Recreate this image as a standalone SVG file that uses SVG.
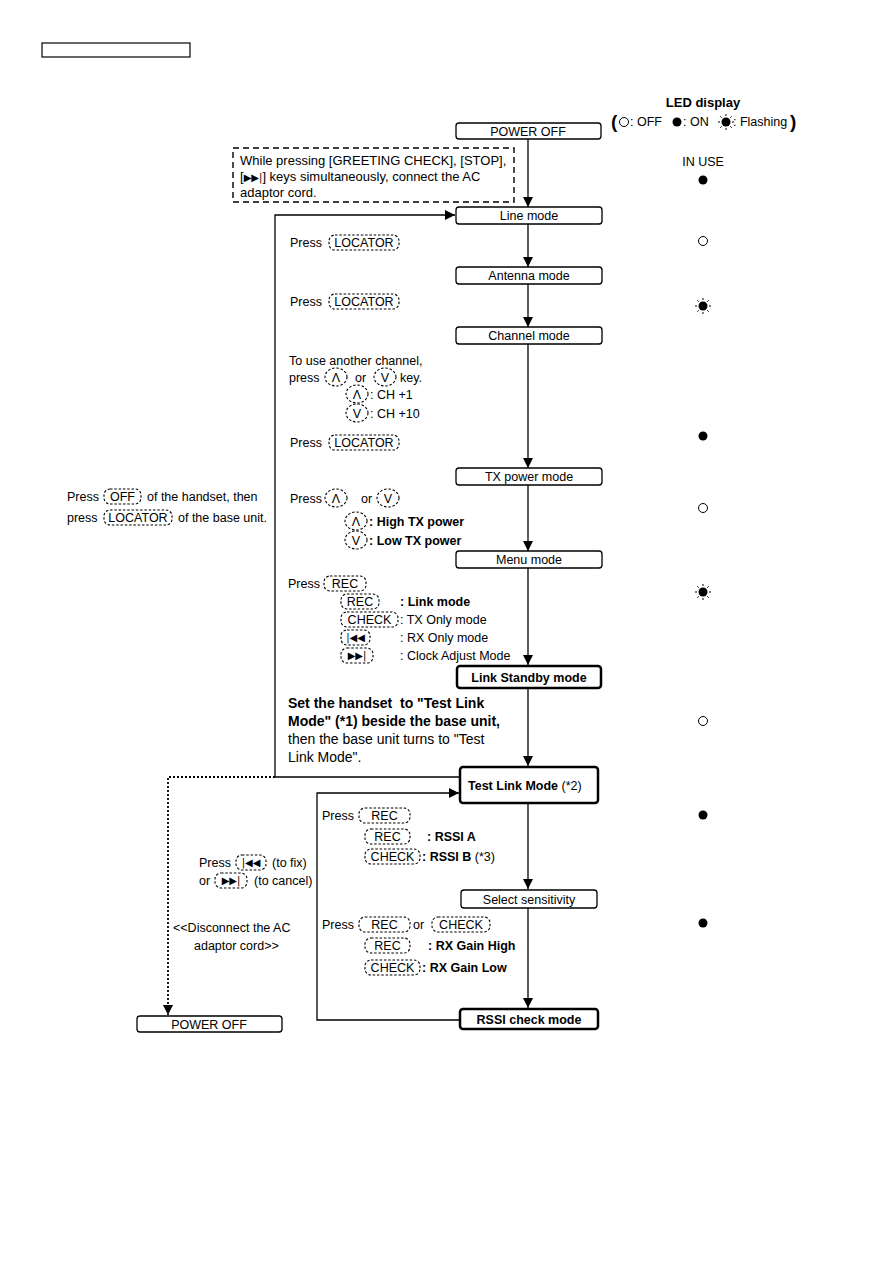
<svg xmlns="http://www.w3.org/2000/svg" width="893" height="1263" viewBox="0 0 893 1263">
<defs>
<marker id="ah" viewBox="0 0 10 10" refX="10" refY="5" markerWidth="10" markerHeight="10" markerUnits="userSpaceOnUse" orient="auto"><path d="M0,0 L10,5 L0,10 z" fill="#000"/></marker>
<g id="flash"><circle r="4.5" fill="#000"/><g stroke="#000" stroke-width="1"><line x1="0" y1="-6" x2="0" y2="-8"/><line x1="0" y1="6" x2="0" y2="8"/><line x1="-6" y1="0" x2="-8" y2="0"/><line x1="6" y1="0" x2="8" y2="0"/><line x1="4.3" y1="4.3" x2="5.7" y2="5.7"/><line x1="-4.3" y1="4.3" x2="-5.7" y2="5.7"/><line x1="4.3" y1="-4.3" x2="5.7" y2="-5.7"/><line x1="-4.3" y1="-4.3" x2="-5.7" y2="-5.7"/></g></g>
</defs>
<style>
text{font-family:"Liberation Sans",Arial,sans-serif;font-size:12.5px;fill:#000}
.b{font-weight:bold}
.c{text-anchor:middle}
.node{fill:#fff;stroke:#000;stroke-width:1.3}
.nodeb{fill:#fff;stroke:#000;stroke-width:2.5}
.key{fill:none;stroke:#000;stroke-width:1.1;stroke-dasharray:2.5 1.8}
.ln{fill:none;stroke:#000;stroke-width:1.3}
.dl{fill:none;stroke:#000;stroke-width:1.8;stroke-dasharray:2 2}
.big{font-size:14px}
</style>
<rect x="42" y="43" width="148" height="14" fill="none" stroke="#000" stroke-width="1.2"/>

<g id="legend">
<text x="703" y="107" class="c b" style="font-size:13px">LED display</text>
<text x="611" y="128" class="b" style="font-size:19px">(</text>
<circle cx="624" cy="122" r="4.5" fill="#fff" stroke="#000" stroke-width="1"/>
<text x="630" y="126">: OFF</text>
<circle cx="677" cy="122" r="4.5" fill="#000"/>
<text x="683" y="126">: ON</text>
<use href="#flash" x="726" y="122"/>
<text x="733" y="126">: Flashing</text>
<text x="790" y="128" class="b" style="font-size:19px">)</text>
<text x="703" y="166" class="c">IN USE</text>
<circle cx="703" cy="180" r="4.5" fill="#000"/>
<circle cx="703" cy="241" r="4.5" fill="#fff" stroke="#000" stroke-width="1"/>
<use href="#flash" x="703" y="306"/>
<circle cx="703" cy="436" r="4.5" fill="#000"/>
<circle cx="703" cy="508" r="4.5" fill="#fff" stroke="#000" stroke-width="1"/>
<use href="#flash" x="703" y="592"/>
<circle cx="703" cy="721" r="4.5" fill="#fff" stroke="#000" stroke-width="1"/>
<circle cx="703" cy="815" r="4.5" fill="#000"/>
<circle cx="703" cy="923" r="4.5" fill="#000"/>
</g>

<g id="connectors">
<line class="ln" x1="528" y1="139" x2="528" y2="207" marker-end="url(#ah)"/>
<line class="ln" x1="528" y1="224" x2="528" y2="267" marker-end="url(#ah)"/>
<line class="ln" x1="528" y1="284" x2="528" y2="327" marker-end="url(#ah)"/>
<line class="ln" x1="528" y1="344" x2="528" y2="468" marker-end="url(#ah)"/>
<line class="ln" x1="528" y1="485" x2="528" y2="551" marker-end="url(#ah)"/>
<line class="ln" x1="528" y1="568" x2="528" y2="665" marker-end="url(#ah)"/>
<line class="ln" x1="528" y1="689" x2="528" y2="766" marker-end="url(#ah)"/>
<line class="ln" x1="528" y1="804" x2="528" y2="889" marker-end="url(#ah)"/>
<line class="ln" x1="528" y1="908" x2="528" y2="1008" marker-end="url(#ah)"/>
<polyline class="ln" points="459,777 275,777 275,215 455,215" marker-end="url(#ah)"/>
<polyline class="ln" points="459,1020 317,1020 317,793 459,793" marker-end="url(#ah)"/>
<polyline class="dl" points="275,777 168,777 168,1015" marker-end="url(#ah)"/>
</g>

<g id="n-poweroff"><rect class="node" x="456" y="123" width="145" height="16" rx="3"/><text x="528" y="135.5" class="c">POWER OFF</text></g>
<g id="n-note"><rect x="233" y="148" width="281" height="54" fill="none" stroke="#000" stroke-width="1.4" stroke-dasharray="6 4"/>
<text x="240" y="165" style="font-size:13px">While pressing [GREETING CHECK], [STOP],</text>
<text x="240" y="181" style="font-size:13px">[<tspan style="font-family:'DejaVu Sans';font-size:10px">▶▶|</tspan>] keys simultaneously, connect the AC</text>
<text x="240" y="197" style="font-size:13px">adaptor cord.</text></g>
<g id="n-line"><rect class="node" x="456" y="207" width="146" height="17" rx="3"/><text x="529" y="220" class="c">Line mode</text></g>
<g id="n-antenna"><rect class="node" x="456" y="267" width="146" height="17" rx="3"/><text x="529" y="280" class="c">Antenna mode</text></g>
<g id="n-channel"><rect class="node" x="456" y="327" width="146" height="17" rx="3"/><text x="529" y="340" class="c">Channel mode</text></g>
<g id="n-txpower"><rect class="node" x="456" y="468" width="146" height="17" rx="3"/><text x="529" y="481" class="c">TX power mode</text></g>
<g id="n-menu"><rect class="node" x="456" y="551" width="146" height="17" rx="3"/><text x="529" y="564" class="c">Menu mode</text></g>
<g id="n-standby"><rect class="nodeb" x="457" y="666" width="144" height="22" rx="3"/><text x="529" y="682" class="c b">Link Standby mode</text></g>
<g id="n-testlink"><rect class="nodeb" x="460" y="767" width="138" height="36" rx="3"/><text x="468" y="790" class="b">Test Link Mode <tspan font-weight="normal">(*2)</tspan></text></g>
<g id="n-select"><rect class="node" x="461" y="890" width="136" height="18" rx="3"/><text x="529" y="904" class="c">Select sensitivity</text></g>
<g id="n-rssi"><rect class="nodeb" x="460" y="1009" width="138" height="20" rx="3"/><text x="529" y="1024" class="c b">RSSI check mode</text></g>
<g id="n-poweroff2"><rect class="node" x="137" y="1016" width="145" height="16" rx="3"/><text x="209" y="1028.5" class="c">POWER OFF</text></g>

<g id="labels">
<text x="290" y="247">Press</text><rect class="key" x="329" y="235" width="70" height="15" rx="6"/><text x="364" y="247" class="c">LOCATOR</text>
<text x="290" y="306">Press</text><rect class="key" x="329" y="294" width="70" height="15" rx="6"/><text x="364" y="306" class="c">LOCATOR</text>

<text x="289" y="365">To use another channel,</text>
<text x="289" y="382">press</text><ellipse class="key" cx="336" cy="377" rx="11" ry="9"/><text x="336" y="382" class="c">Λ</text>
<text x="355" y="382">or</text><ellipse class="key" cx="385" cy="377" rx="11" ry="9"/><text x="385" y="382" class="c">V</text>
<text x="400" y="382">key.</text>
<ellipse class="key" cx="357" cy="394" rx="11" ry="9"/><text x="357" y="399" class="c">Λ</text><text x="370" y="399">: CH +1</text>
<ellipse class="key" cx="357" cy="413" rx="11" ry="9"/><text x="357" y="418" class="c">V</text><text x="370" y="418">: CH +10</text>
<text x="290" y="447">Press</text><rect class="key" x="329" y="435" width="70" height="15" rx="6"/><text x="364" y="447" class="c">LOCATOR</text>

<text x="290" y="503">Press</text><ellipse class="key" cx="336" cy="498" rx="11" ry="9"/><text x="336" y="503" class="c">Λ</text>
<text x="361" y="503">or</text><ellipse class="key" cx="388" cy="498" rx="11" ry="9"/><text x="388" y="503" class="c">V</text>
<ellipse class="key" cx="356" cy="521" rx="11" ry="9"/><text x="356" y="526" class="c">Λ</text><text x="369" y="526" class="b">: High TX power</text>
<ellipse class="key" cx="356" cy="540" rx="11" ry="9"/><text x="356" y="545" class="c">V</text><text x="369" y="545" class="b">: Low TX power</text>

<text x="288" y="588">Press</text><rect class="key" x="324" y="576" width="42" height="15" rx="6"/><text x="345" y="588" class="c">REC</text>
<rect class="key" x="341" y="594" width="38" height="15" rx="6"/><text x="360" y="606" class="c">REC</text><text x="400" y="606" class="b">: Link mode</text>
<rect class="key" x="341" y="612" width="57" height="15" rx="6"/><text x="369.5" y="624" class="c">CHECK</text><text x="400" y="624">: TX Only mode</text>
<rect class="key" x="341" y="630" width="29" height="15" rx="6"/><text x="355.5" y="641" class="c" style="font-family:'DejaVu Sans';font-size:10px">|◀◀</text><text x="400" y="642">: RX Only mode</text>
<rect class="key" x="341" y="648" width="32" height="15" rx="6"/><text x="357" y="659" class="c" style="font-family:'DejaVu Sans';font-size:10px">▶▶|</text><text x="400" y="660">: Clock Adjust Mode</text>

<text x="288" y="708" class="b big" style="white-space:pre">Set the handset  to "Test Link</text>
<text x="288" y="726" class="b big">Mode" (*1) beside the base unit,</text>
<text x="288" y="744" class="big">then the base unit turns to "Test</text>
<text x="288" y="762" class="big">Link Mode".</text>

<text x="322" y="820">Press</text><rect class="key" x="359" y="808" width="51" height="15" rx="6"/><text x="384.5" y="820" class="c">REC</text>
<rect class="key" x="365" y="829" width="45" height="15" rx="6"/><text x="387.5" y="841" class="c">REC</text><text x="427" y="841" class="b">: RSSI A</text>
<rect class="key" x="365" y="849" width="55" height="15" rx="6"/><text x="392.5" y="861" class="c">CHECK</text><text x="422" y="861" class="b">: RSSI B <tspan font-weight="normal">(*3)</tspan></text>
<text x="322" y="929">Press</text><rect class="key" x="359" y="917" width="51" height="15" rx="6"/><text x="384.5" y="929" class="c">REC</text>
<text x="413" y="929">or</text><rect class="key" x="432" y="917" width="58" height="15" rx="6"/><text x="461" y="929" class="c">CHECK</text>
<rect class="key" x="365" y="938" width="45" height="15" rx="6"/><text x="387.5" y="950" class="c">REC</text><text x="428" y="950" class="b">: RX Gain High</text>
<rect class="key" x="365" y="960" width="55" height="15" rx="6"/><text x="392.5" y="972" class="c">CHECK</text><text x="422" y="972" class="b">: RX Gain Low</text>

<text x="67" y="501">Press</text><rect class="key" x="104" y="489" width="37" height="15" rx="6"/><text x="122.5" y="501" class="c">OFF</text><text x="147" y="501">of the handset, then</text>
<text x="67" y="522">press</text><rect class="key" x="104" y="510" width="68" height="15" rx="6"/><text x="138" y="522" class="c">LOCATOR</text><text x="178" y="522">of the base unit.</text>

<text x="199" y="867">Press</text><rect class="key" x="236" y="855" width="30" height="15" rx="6"/><text x="251" y="866" class="c" style="font-family:'DejaVu Sans';font-size:10px">|◀◀</text><text x="272" y="867">(to fix)</text>
<text x="199" y="885">or</text><rect class="key" x="215" y="873" width="32" height="15" rx="6"/><text x="231" y="884" class="c" style="font-family:'DejaVu Sans';font-size:10px">▶▶|</text><text x="254" y="885">(to cancel)</text>
<text x="173" y="932">&lt;&lt;Disconnect the AC</text>
<text x="194" y="950">adaptor cord&gt;&gt;</text>
</g>
</svg>
